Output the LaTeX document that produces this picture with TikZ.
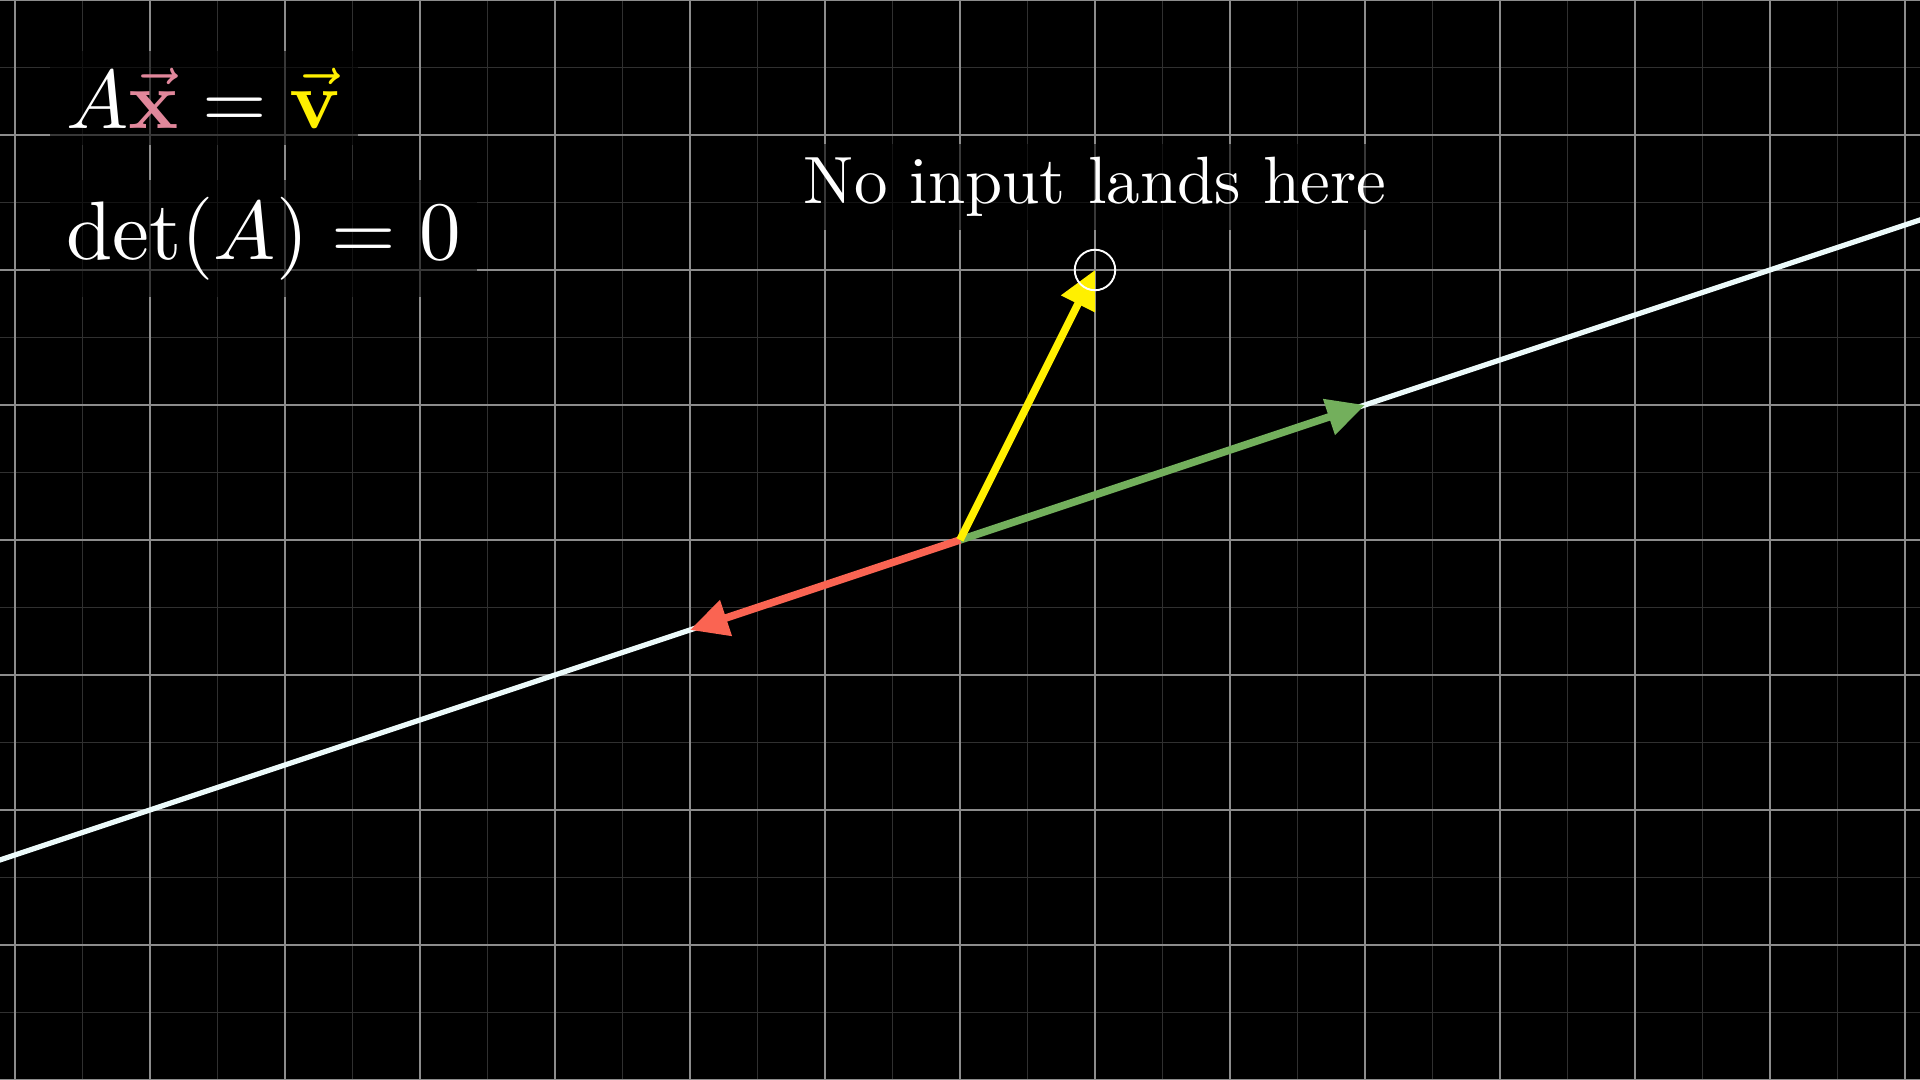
\documentclass[tikz,border=0pt]{standalone}
\usepackage{amsmath}
\usetikzlibrary{arrows.meta}
\definecolor{majorgrid}{RGB}{140,140,140}
\definecolor{minorgrid}{RGB}{48,48,48}
\definecolor{vecgreen}{RGB}{115,175,92}
\definecolor{vecred}{RGB}{250,100,82}
\definecolor{vecyellow}{RGB}{255,240,0}
\definecolor{xpink}{RGB}{225,135,155}
\definecolor{spanline}{RGB}{235,250,250}
\tikzset{
  minorline/.style={draw=minorgrid,line width=0.4pt},
  majorline/.style={draw=majorgrid,line width=0.5pt},
  spanstyle/.style={draw=spanline,line width=1.1pt},
  vecarrow/.style={line width=1.6pt,-{Triangle[length=8pt,width=7.6pt]}},
  backtext/.style={fill=black,fill opacity=0.6,text opacity=1,text=white,inner sep=2pt},
}
\begin{document}
\begin{tikzpicture}
\useasboundingbox (-7.1111,-4) rectangle (7.1111,4);
\fill[black] (-7.1111,-4) rectangle (7.1111,4);
\clip (-7.1111,-4) rectangle (7.1111,4);
% grid
\draw[minorline] (-7.5,-4.5) grid[step=0.5] (7.5,4.5);
\draw[majorline] (-8,-5) grid[step=1] (8,5);
% coordinates
\coordinate (O) at (0,0);
\coordinate (g) at (3,1);
\coordinate (r) at (-2,-0.6667);
\coordinate (y) at (1,2);
\coordinate (L) at (-7.5,-2.5);
\coordinate (R) at (7.5,2.5);
% span line
\draw[spanstyle] (L) -- (R);
% vectors
\draw[vecarrow,draw=vecgreen,fill=vecgreen] (O) -- (g);
\draw[vecarrow,draw=vecred,fill=vecred] (O) -- (r);
\draw[vecarrow,draw=vecyellow,fill=vecyellow] (O) -- (y);
% circle
\node (ring) [circle,draw=white,line width=0.4pt,minimum size=0.3cm,inner sep=0pt] at (y) {};
% texts
\node (eq1) [backtext,scale=1.75,anchor=base west] at (-6.755,3.05)
  {$A\textcolor{xpink}{\vec{\mathbf{x}}}=\textcolor{vecyellow}{\vec{\mathbf{v}}}$};
\node (eq2) [backtext,scale=1.75,anchor=base west] at (-6.755,2.08)
  {$\det(A)=0$};
\node (lbl) [backtext,scale=1.41,anchor=base] at (1,2.49) {No input lands here};
\end{tikzpicture}
\end{document}
